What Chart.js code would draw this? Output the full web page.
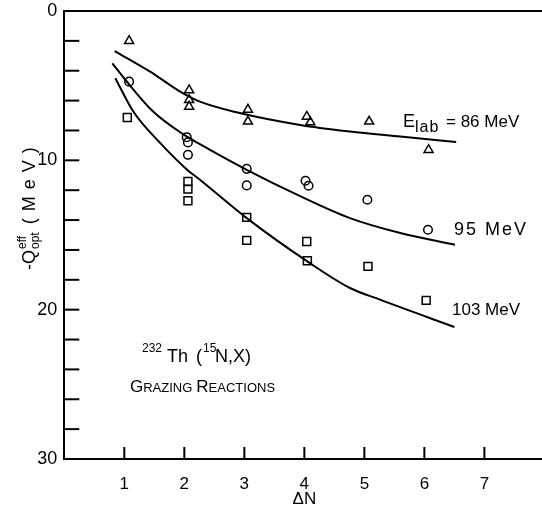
<!DOCTYPE html>
<html><head><meta charset="utf-8">
<script src="https://cdn.jsdelivr.net/npm/chart.js@4/dist/chart.umd.min.js"></script>
<style>html,body{margin:0;padding:0;background:#fff;overflow:hidden}#wrap{width:542px;height:506px;position:relative}canvas{display:block}</style>
</head><body><div id="wrap"><canvas id="c" width="542" height="506" style="width:542px;height:506px"></canvas></div>
<script>
// ---- data ----
const xTickValues = [0, 1, 2, 3, 4, 5, 6, 7];
const xTickLabels = ['1','2','3','4','5','6','7'];
const yTickValues = [0, 2, 4, 6, 8, 10, 12, 14, 16, 18, 20, 22, 24, 26, 28, 30];
const yTickLabels = ['0','10','20','30'];

const tri86X  = [1.08, 2.08, 2.08, 2.08, 3.06, 3.06, 4.04, 4.10, 5.08, 6.07];
const tri86Y  = [2.0,  5.3,  5.95, 6.4,  6.6,  7.4,  7.07, 7.45, 7.4,  9.3];
const circ95X = [1.08, 2.04, 2.06, 2.06, 3.04, 3.04, 4.02, 4.07, 5.05, 6.06];
const circ95Y = [4.73, 8.45, 8.8,  9.63, 10.57,11.68,11.37,11.7, 12.64,14.65];
const sq103X  = [1.05, 2.06, 2.06, 2.06, 3.04, 3.04, 4.04, 4.05, 5.06, 6.03];
const sq103Y  = [7.13, 11.42,11.93,12.71,13.82,15.36,15.43,16.72,17.1, 19.38];

const fit86X  = [0.84, 1.43, 1.93, 2.26, 2.87, 3.93, 4.76, 5.6,  6.53];
const fit86Y  = [2.68, 4.06, 5.4,  6.07, 6.78, 7.63, 8.07, 8.41, 8.78];
const fit95X  = [0.8,  1.01, 1.48, 1.98, 2.26, 3.04, 3.93, 4.76, 5.6,  6.51];
const fit95Y  = [3.5,  4.57, 6.73, 8.25, 8.92, 10.64,12.4, 13.87,14.87,15.65];
const fit103X = [0.85, 1.15, 1.6,  2.05, 2.26, 3.04, 4.05, 4.76, 5.26, 6.5];
const fit103Y = [4.5,  6.73, 8.85, 10.64,11.3, 13.87,16.77,18.55,19.33,21.16];

const pts = (xs, ys) => xs.map((x, i) => ({x, y: ys[i]}));
const FONT = '"Liberation Sans", "DejaVu Sans", sans-serif';

const markerDs = (label, xs, ys, style, r) => ({
  label, data: pts(xs, ys), showLine: false, pointStyle: style,
  pointRadius: r, pointBorderWidth: 1.5, pointBorderColor: '#000',
  pointBackgroundColor: 'rgba(255,255,255,0)', order: 1
});
const fitDs = (label, xs, ys) => ({
  label, data: pts(xs, ys), showLine: true, pointRadius: 0,
  borderColor: '#000', borderWidth: 2, cubicInterpolationMode: 'monotone',
  fill: false, order: 2
});

const decor = {
  id: 'decor',
  afterDraw(chart) {
    const ctx = chart.ctx, xs = chart.scales.x, ys = chart.scales.y, a = chart.chartArea;
    ctx.save();
    ctx.strokeStyle = '#000'; ctx.lineWidth = 2; ctx.lineCap = 'butt';
    // top frame line
    ctx.beginPath(); ctx.moveTo(a.left - 1, a.top); ctx.lineTo(a.right, a.top); ctx.stroke();
    // inward y ticks
    ys.ticks.forEach(t => {
      if (t.value <= 0 || t.value >= 30) return;
      const p = ys.getPixelForValue(t.value);
      ctx.beginPath(); ctx.moveTo(a.left, p); ctx.lineTo(a.left + 15, p); ctx.stroke();
    });
    // inward x ticks
    xs.ticks.forEach(t => {
      if (t.value < 1) return;
      const p = xs.getPixelForValue(t.value);
      ctx.beginPath(); ctx.moveTo(p, a.bottom); ctx.lineTo(p, a.bottom - 12); ctx.stroke();
    });
    ctx.fillStyle = '#000';
    ctx.textBaseline = 'alphabetic'; ctx.textAlign = 'left';
    // x axis title
    ctx.font = '17px ' + FONT; ctx.textAlign = 'center';
    ctx.fillText('\u0394N', xs.getPixelForValue(4), 504);
    // y axis title (rotated)
    ctx.save();
    ctx.translate(35, 207); ctx.rotate(-Math.PI / 2);
    ctx.textAlign = 'left';
    let x0 = -63;
    ctx.font = '18px ' + FONT;
    ctx.fillText('-Q', x0, 0); x0 += ctx.measureText('-Q').width + 1;
    ctx.font = '12px ' + FONT;
    ctx.fillText('eff', x0, -9); ctx.fillText('opt', x0, 4);
    x0 += ctx.measureText('opt').width + 8;
    ctx.font = '18px ' + FONT;
    ['(', 'M', 'e', 'V', ')'].forEach(ch => { ctx.fillText(ch, x0, 0); x0 += ctx.measureText(ch).width + 7; });
    ctx.restore();
    // energy labels
    ctx.textAlign = 'left';
    ctx.font = '18px ' + FONT; ctx.fillText('E', 403, 127);
    ctx.font = '16px ' + FONT; ctx.letterSpacing = '1px'; ctx.fillText('lab', 415, 132);
    ctx.letterSpacing = '0px';
    ctx.font = '17px ' + FONT; ctx.fillText('= 86 MeV', 446, 127);
    ctx.font = '18px ' + FONT;
    ctx.letterSpacing = '2px'; ctx.fillText('95 MeV', 454, 235);
    ctx.letterSpacing = '0px';
    ctx.font = '17px ' + FONT; ctx.fillText('103 MeV', 452, 315);
    // reaction label
    ctx.font = '12px ' + FONT; ctx.fillText('232', 142, 352);
    ctx.font = '18px ' + FONT; ctx.fillText('Th', 167, 362);
    ctx.fillText('(', 196, 362);
    ctx.font = '12px ' + FONT; ctx.fillText('15', 203, 352);
    ctx.font = '18px ' + FONT; ctx.fillText('N,X)', 215, 362);
    // small caps
    let xg = 130;
    const sc = (txt, big) => { ctx.font = (big ? '17px ' : '13px ') + FONT; ctx.fillText(txt, xg, 392); xg += ctx.measureText(txt).width; };
    sc('G', true); sc('RAZING', false); xg += 4; sc('R', true); sc('EACTIONS', false);
    ctx.restore();
  }
};

new Chart(document.getElementById('c'), {
  type: 'scatter',
  data: { datasets: [
    markerDs('86 MeV', tri86X, tri86Y, 'triangle', 5.2),
    markerDs('95 MeV', circ95X, circ95Y, 'circle', 4.3),
    markerDs('103 MeV', sq103X, sq103Y, 'rect', 5.6),
    fitDs('fit 86', fit86X, fit86Y),
    fitDs('fit 95', fit95X, fit95Y),
    fitDs('fit 103', fit103X, fit103Y)
  ]},
  options: {
    responsive: false, maintainAspectRatio: false, animation: false, devicePixelRatio: 1,
    layout: { autoPadding: false, padding: { top: 11, right: 0, left: 0, bottom: 0 } },
    plugins: { legend: { display: false }, tooltip: { enabled: false } },
    scales: {
      x: {
        type: 'linear', min: 0, max: 7.96,
        border: { display: true, color: '#000', width: 2 },
        grid: { display: false, drawTicks: false },
        afterBuildTicks: s => { s.ticks = xTickValues.map(v => ({value: v})); },
        ticks: { padding: 15, autoSkip: false, maxRotation: 0, color: '#000', font: { family: FONT, size: 17 },
          callback: v => xTickLabels.includes(String(v)) ? String(v) : '' },
        afterFit: s => { s.height = 47; s.paddingLeft = 0; s.paddingRight = 0; }
      },
      y: {
        type: 'linear', min: 0, max: 30, reverse: true,
        border: { display: true, color: '#000', width: 2 },
        grid: { display: false, drawTicks: false },
        afterBuildTicks: s => { s.ticks = yTickValues.map(v => ({value: v})); },
        ticks: { padding: 7, autoSkip: false, color: '#000', font: { family: FONT, size: 18, lineHeight: 0.4 },
          callback: v => yTickLabels.includes(String(v)) ? String(v) : '' },
        afterFit: s => { s.width = 64.3; s.paddingTop = 0; s.paddingBottom = 0; }
      }
    }
  },
  plugins: [decor]
});
</script>
</body></html>
